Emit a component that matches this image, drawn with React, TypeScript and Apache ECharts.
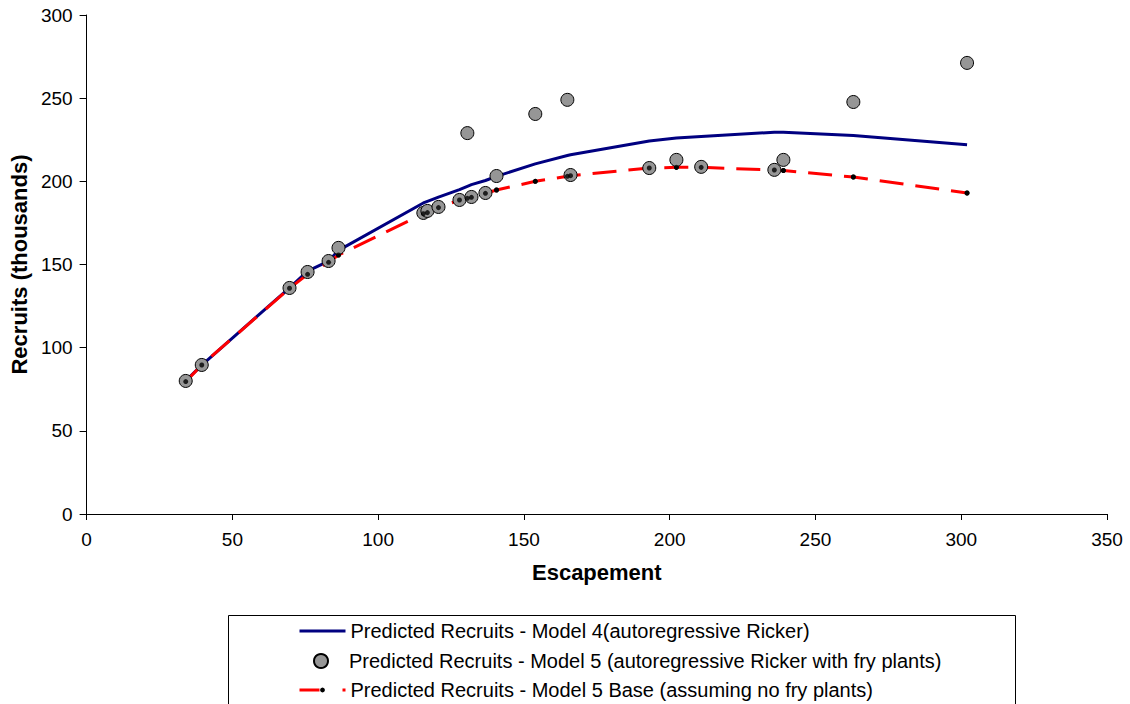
import React, { useEffect, useRef } from "react";
import * as echarts from "echarts";

const escapement = [34, 39.5, 69.6, 75.8, 83, 86.4, 115.5, 116.9, 120.7, 127.9, 130.6, 132, 136.8, 140.6, 153.9, 164.9, 166, 193, 202.3, 210.8, 235.9, 239, 263, 302];
const model4 = [80, 89.5, 136, 146, 152, 158.5, 187, 188, 190.5, 195, 197, 198, 200.5, 203, 210.5, 215.5, 216, 224.3, 226, 227, 229.5, 229.5, 227.5, 222];
const model5 = [80, 89.6, 135.9, 145.5, 152.1, 160, 181, 182.2, 184.6, 188.8, 229, 190.6, 193, 203.2, 240.5, 249, 203.8, 208, 212.9, 208.7, 206.9, 212.9, 247.7, 271.2];
const model5Base = [79.6, 89.6, 135.7, 144.1, 151.3, 155.7, 180.5, 181.2, 184.2, 188.8, 189.8, 190.4, 192.8, 194.8, 200, 203, 203.4, 208, 208.4, 208.4, 206.8, 206.5, 202.6, 193];

const seriesNames = [
  "Predicted Recruits - Model 4(autoregressive Ricker)",
  "Predicted Recruits - Model 5 (autoregressive Ricker with fry plants)",
  "Predicted Recruits - Model 5 Base (assuming no fry plants)",
];
const xAxisTitle = "Escapement";
const yAxisTitle = "Recruits (thousands)";

const FONT = "'Liberation Sans', Arial, sans-serif";

export default function App() {
  const ref = useRef<HTMLDivElement>(null);
  useEffect(() => {
    document.body.style.margin = "0";
    const chart = echarts.init(ref.current!, null, { renderer: "svg" });
    const pairs = (ys: number[]) => escapement.map((x, i) => [x, ys[i]]);
    const legendText = { fontSize: 20, color: "#000", lineHeight: 20, fontFamily: FONT };
    const legendBase = {
      orient: "vertical",
      left: 298,
      itemWidth: 46,
      padding: 0,
      textStyle: legendText,
    };
    chart.setOption({
      animation: false,
      backgroundColor: "#fff",
      textStyle: { fontFamily: FONT },
      grid: { left: 86, right: 23, top: 15, bottom: 190, containLabel: false },
      xAxis: {
        type: "value",
        min: 0,
        max: 350,
        interval: 50,
        name: xAxisTitle,
        nameLocation: "middle",
        nameGap: 47,
        nameTextStyle: { fontSize: 22, fontWeight: "bold", color: "#000", fontFamily: FONT },
        axisLine: { show: true, lineStyle: { color: "#000", width: 1 } },
        axisTick: { show: true, inside: false, length: 6, lineStyle: { color: "#000" } },
        axisLabel: { fontSize: 19, color: "#000", margin: 16, fontFamily: FONT },
        splitLine: { show: false },
      },
      yAxis: {
        type: "value",
        min: 0,
        max: 300,
        interval: 50,
        name: yAxisTitle,
        nameLocation: "middle",
        nameGap: 53,
        nameRotate: 90,
        nameTextStyle: { fontSize: 22, fontWeight: "bold", color: "#000", fontFamily: FONT },
        axisLine: { show: true, lineStyle: { color: "#000", width: 1 } },
        axisTick: { show: true, inside: false, length: 7, lineStyle: { color: "#000" } },
        axisLabel: { fontSize: 19, color: "#000", margin: 14, fontFamily: FONT },
        splitLine: { show: false },
      },
      legend: [
        {
          ...legendBase,
          top: 621,
          itemHeight: 14,
          itemStyle: { opacity: 0 },
          lineStyle: { width: 3 },
          data: [seriesNames[0]],
        },
        {
          ...legendBase,
          left: 313,
          top: 651,
          itemHeight: 14,
          data: [seriesNames[1]],
        },
        {
          ...legendBase,
          top: 680,
          itemHeight: 6,
          lineStyle: { type: [20, 23], width: 3 },
          data: [seriesNames[2]],
        },
      ],
      graphic: [
        {
          type: "rect",
          shape: { x: 228.5, y: 615.5, width: 787, height: 140 },
          style: { fill: "none", stroke: "#000", lineWidth: 1 },
          silent: true,
        },
      ],
      series: [
        {
          name: seriesNames[0],
          type: "line",
          data: pairs(model4),
          symbol: "none",
          lineStyle: { color: "#000080", width: 3 },
          itemStyle: { color: "#000080" },
          z: 2,
        },
        {
          name: seriesNames[2],
          type: "line",
          data: pairs(model5Base),
          symbol: "circle",
          symbolSize: 5,
          lineStyle: { color: "#ff0000", width: 3, type: [24, 12] },
          itemStyle: { color: "#000", borderWidth: 0 },
          z: 3,
        },
        {
          name: seriesNames[1],
          type: "scatter",
          data: pairs(model5),
          symbol: "circle",
          symbolSize: 13,
          itemStyle: { color: "#969696", borderColor: "#000", borderWidth: 1, opacity: 1 },
          z: 4,
        },
        {
          name: "base-dots",
          type: "scatter",
          data: pairs(model5Base),
          symbol: "circle",
          symbolSize: 5,
          itemStyle: { color: "#000" },
          z: 5,
          silent: true,
        },
      ],
    });
    return () => chart.dispose();
  }, []);
  return <div ref={ref} style={{ width: 1130, height: 704 }} />;
}
